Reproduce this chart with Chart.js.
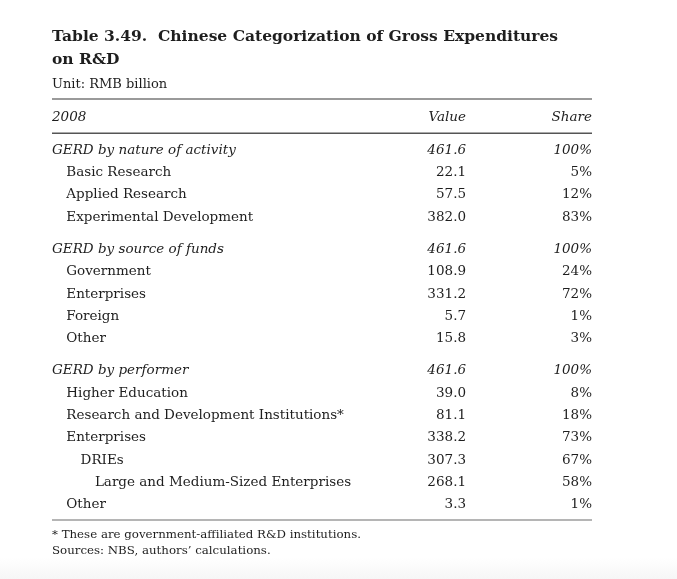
<!DOCTYPE html>
<html>
<head>
<meta charset="utf-8">
<script src="https://cdn.jsdelivr.net/npm/chart.js@4.4.1/dist/chart.umd.min.js"></script>
<style>
  html, body { margin: 0; padding: 0; background: #fff; }
  body { width: 677px; height: 579px; background: linear-gradient(to bottom, #fff 0, #fff 558px, #f6f6f6 579px); }
  #wrap { position: absolute; left: 0; top: 0; width: 677px; height: 579px; }
</style>
</head>
<body>
<div id="wrap"><canvas id="chart"></canvas></div>
<script>
// table rows
const rowLabels = [
  'GERD by nature of activity', 'Basic Research', 'Applied Research', 'Experimental Development',
  'GERD by source of funds', 'Government', 'Enterprises', 'Foreign', 'Other',
  'GERD by performer', 'Higher Education', 'Research and Development Institutions*', 'Enterprises',
  'DRIEs', 'Large and Medium-Sized Enterprises', 'Other'
]
const rowValues = ['461.6', '22.1', '57.5', '382.0', '461.6', '108.9', '331.2', '5.7', '15.8',
  '461.6', '39.0', '81.1', '338.2', '307.3', '268.1', '3.3']
const rowShares = ['100%', '5%', '12%', '83%', '100%', '24%', '72%', '1%', '3%',
  '100%', '8%', '18%', '73%', '67%', '58%', '1%']
const rowIndent = [0, 1, 1, 1, 0, 1, 1, 1, 1, 0, 1, 1, 1, 2, 3, 1]
const rowGroup = [0, 0, 0, 0, 1, 1, 1, 1, 1, 2, 2, 2, 2, 2, 2, 2]
const headerLabels = ['2008', 'Value', 'Share']
const titleLines = ['Table 3.49.  Chinese Categorization of Gross Expenditures', 'on R&D']
const subtitleText = 'Unit: RMB billion'
const footnotes = ['* These are government-affiliated R&D institutions.', 'Sources: NBS, authors\u2019 calculations.']

const SERIF = '"DejaVu Serif", "Liberation Serif", serif'
const TEXT = '#1e1e1e'
const GROUP_GAP = 0.45
const VALUE_COL = 0.7667

// row position = index + one header row + gap per group
const rowPos = rowLabels.map((_, i) => i + 1 + GROUP_GAP * (rowGroup[i] + 1))

const valuePoints = rowPos.map((y) => ({ x: VALUE_COL, y: y }))
const sharePoints = rowPos.map((y) => ({ x: 1, y: y }))

const tablePlugin = {
  id: 'tableText',
  afterDatasetsDraw(chart) {
    const ctx = chart.ctx
    const area = chart.chartArea
    const xs = chart.scales.x
    const ys = chart.scales.y
    const valMeta = chart.getDatasetMeta(0)
    const shrMeta = chart.getDatasetMeta(1)
    ctx.save()

    // rules
    ctx.strokeStyle = '#9a9a9a'
    ctx.lineWidth = 2
    ctx.beginPath(); ctx.moveTo(area.left, area.top); ctx.lineTo(area.right, area.top); ctx.stroke()
    ctx.strokeStyle = '#b5b5b5'
    ctx.beginPath(); ctx.moveTo(area.left, area.bottom); ctx.lineTo(area.right, area.bottom); ctx.stroke()
    ctx.strokeStyle = '#555'
    ctx.lineWidth = 1.5
    const hy = Math.round(ys.getPixelForValue(0.67)) + 0.25
    ctx.beginPath(); ctx.moveTo(area.left, hy); ctx.lineTo(area.right, hy); ctx.stroke()

    ctx.textBaseline = 'middle'
    ctx.fillStyle = TEXT

    // header row
    const y0 = ys.getPixelForValue(0)
    ctx.font = 'italic 13.5px ' + SERIF
    ctx.textAlign = 'left'
    ctx.fillText(headerLabels[0], area.left, y0)
    ctx.textAlign = 'right'
    ctx.fillText(headerLabels[1], xs.getPixelForValue(VALUE_COL), y0)
    ctx.fillText(headerLabels[2], xs.getPixelForValue(1), y0)

    // body rows
    rowLabels.forEach((label, i) => {
      const pv = valMeta.data[i]
      const ps = shrMeta.data[i]
      const group = rowIndent[i] === 0
      ctx.font = (group ? 'italic ' : '') + '13.5px ' + SERIF
      ctx.textAlign = 'left'
      ctx.fillText(label, area.left + rowIndent[i] * 14.3, pv.y)
      ctx.textAlign = 'right'
      ctx.fillText(rowValues[i], pv.x, pv.y)
      ctx.fillText(rowShares[i], ps.x, ps.y)
    })

    // notes
    ctx.font = '11.8px ' + SERIF
    ctx.textAlign = 'left'
    footnotes.forEach((t, i) => {
      ctx.fillText(t, area.left, area.bottom + 15 + i * 15.5)
    })
    ctx.restore()
  }
}

const ctx = document.getElementById('chart').getContext('2d')
new Chart(ctx, {
  type: 'scatter',
  data: {
    datasets: [
      { label: 'Value', data: valuePoints, pointRadius: 0, pointHoverRadius: 0 },
      { label: 'Share', data: sharePoints, pointRadius: 0, pointHoverRadius: 0 }
    ]
  },
  options: {
    responsive: true,
    maintainAspectRatio: false,
    animation: false,
    events: [],
    layout: { padding: { left: 52, right: 85, top: 0, bottom: 59 } },
    scales: {
      x: { type: 'linear', min: 0, max: 1, display: false },
      y: { type: 'linear', min: -0.85, max: 18.04, reverse: true, display: false }
    },
    plugins: {
      legend: { display: false },
      tooltip: { enabled: false },
      title: {
        display: true,
        align: 'start',
        text: titleLines,
        color: TEXT,
        font: { family: SERIF, size: 15.5, weight: 'bold', lineHeight: 23 / 15.5 },
        padding: { top: 25.5, bottom: 4 }
      },
      subtitle: {
        display: true,
        align: 'start',
        text: subtitleText,
        color: TEXT,
        font: { family: SERIF, size: 13, lineHeight: 16 / 13 },
        padding: { top: 1.5, bottom: 6 }
      }
    }
  },
  plugins: [tablePlugin]
})
</script>
</body>
</html>
